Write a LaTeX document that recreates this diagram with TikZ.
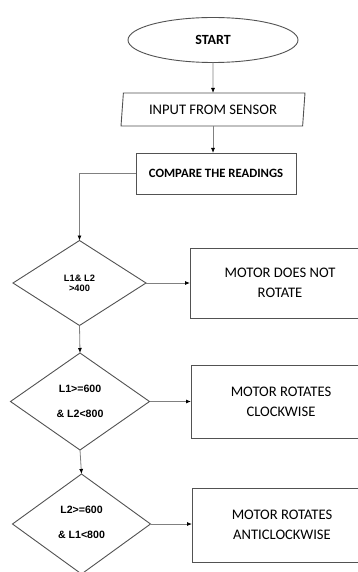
\documentclass[tikz,border=0pt]{standalone}
\usepackage{fontspec}
\setmainfont{Carlito}
\newfontfamily\diafont{Liberation Sans}
\usetikzlibrary{shapes.geometric,arrows.meta}

\begin{document}
\begin{tikzpicture}[x=1pt,y=-1pt,
  shapeline/.style={draw=black!68, line width=0.9pt, inner sep=0pt, outer sep=0pt},
  flow/.style={draw=black!50, line width=0.8pt, -{Latex[black,length=5pt,width=4pt]}},
  boxtext/.style={font=\fontsize{14.6}{20}\selectfont, align=center},
  decision/.style={diamond, shapeline, align=center, font=\diafont\bfseries\fontsize{10.6}{12}\selectfont},
  outbox/.style={rectangle, shapeline, minimum width=180pt, boxtext}]
\useasboundingbox (0,0) rectangle (358,572);
\clip (0,0) rectangle (358,572);
\fill[white] (0,0) rectangle (358,572);

% terminal and input
\node[ellipse, shapeline, minimum width=170pt, minimum height=45pt,
      font=\bfseries\fontsize{14}{16}\selectfont] (start) at (213,40) {START};
\node[trapezium, trapezium left angle=80, trapezium right angle=100,
      trapezium stretches=true, shapeline, minimum width=184pt, minimum height=33pt,
      font=\fontsize{14.6}{16}\selectfont] (inp) at (213,109.5) {INPUT FROM SENSOR};
\node[rectangle, shapeline, minimum width=160pt, minimum height=41pt,
      font=\bfseries\fontsize{12.7}{14}\selectfont] (cmp) at (216,173.5) {COMPARE THE READINGS};

% decisions
\node[decision, minimum width=133pt, minimum height=85pt,
      font=\diafont\bfseries\fontsize{9.3}{10.5}\selectfont] (d1) at (79.5,283) {L1\& L2\\[-0.5pt]>400};
\node[decision, minimum width=139pt, minimum height=97pt] (d2) at (80,401.5) {L1>=600\\[13pt]\& L2<800};
\node[decision, minimum width=138pt, minimum height=100pt] (d3) at (81.5,524) {L2>=600\\[13pt]\& L1<800\\[-9pt]\mbox{}};

% outcomes
\node[outbox, minimum height=70pt] (b1) at (280,283) {MOTOR DOES NOT\\ROTATE};
\node[outbox, minimum height=73pt] (b2) at (281,401.5) {MOTOR ROTATES\\CLOCKWISE};
\node[outbox, minimum height=74pt] (b3) at (282,525) {MOTOR ROTATES\\ANTICLOCKWISE};

% connectors
\draw[flow] (start.south) -- (inp.north);
\draw[flow] (inp.south) -- (inp.south |- cmp.north);
\draw[flow] (cmp.west) -| (d1.north);
\draw[flow] (d1.east) -- (b1.west);
\draw[flow] (d1.south) -- (d2.north);
\draw[flow] (d2.east) -- (b2.west);
\draw[flow] (d2.south) -- (d3.north);
\draw[flow] (d3.east) -- (d3.east -| b3.west);
\end{tikzpicture}
\end{document}
